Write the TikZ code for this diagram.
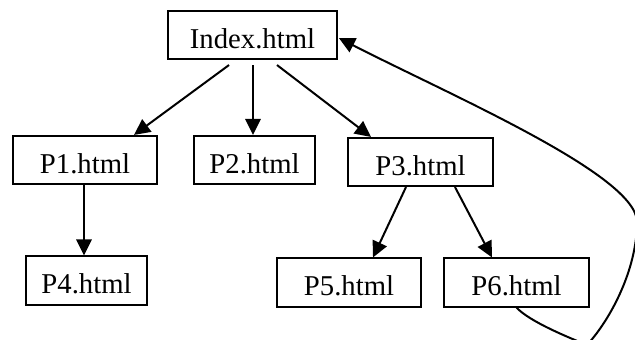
\documentclass[tikz,border=0pt]{standalone}
\usepackage{fontspec}
\setmainfont{Liberation Serif}
\usepackage{tikz}
\usetikzlibrary{positioning,calc,arrows.meta}
\tikzset{page node/.style={draw,line width=1.5pt,minimum height=1.45cm,inner sep=0pt,text height=0.8cm,text depth=0pt,font=\fontsize{24.5}{29}\selectfont},
link/.style={line width=1.7pt,-{Triangle[length=0.48cm,width=0.46cm]}},}

\begin{document}
\begin{tikzpicture}[x=0.03cm,y=-0.03cm]
    \useasboundingbox (0,0) rectangle (635,340);

    \node[page node,minimum width=5.07cm] (index) at (252.5,35) {Index.html};
    \node[page node,minimum width=4.32cm] (p1) at (85,160) {P1.html};
    \node[page node,minimum width=3.63cm] (p2) at (254.5,160) {P2.html};
    \node[page node,minimum width=4.35cm] (p3) at (420.5,162) {P3.html};
    \node[page node,minimum width=3.63cm] (p4) at (86.5,280.5) {P4.html};
    \node[page node,minimum width=4.32cm] (p5) at (349,282.5) {P5.html};
    \node[page node,minimum width=4.35cm] (p6) at (516.5,282.5) {P6.html};

    \path[link]
    ($(index.south)+(-23.5,5)$) edge ($(p1.north)+(49,0)$)
    ($(index.south)+(0.5,5)$) edge ($(p2.north)+(-1.5,0)$)
    ($(index.south)+(24.5,5)$) edge ($(p3.north)+(-49.5,0)$)
    ($(p1.south)+(-1,0)$) edge ($(p4.north)+(-2.5,0)$)
    ($(p3.south)+(-14.5,0)$) edge ($(p5.north)+(24,0)$)
    ($(p3.south)+(34.5,0)$) edge ($(p6.north)+(-24.5,0)$)
    ;

    % link back to the start page
    \draw[link] (p6.south) .. controls (530,322) and (570,338) .. (587,345)
        .. controls (610,320) and (637,270) .. (637,222)
        .. controls (637,175) and (450,95) .. ($(index.east)+(1,3)$);
\end{tikzpicture}
\end{document}
